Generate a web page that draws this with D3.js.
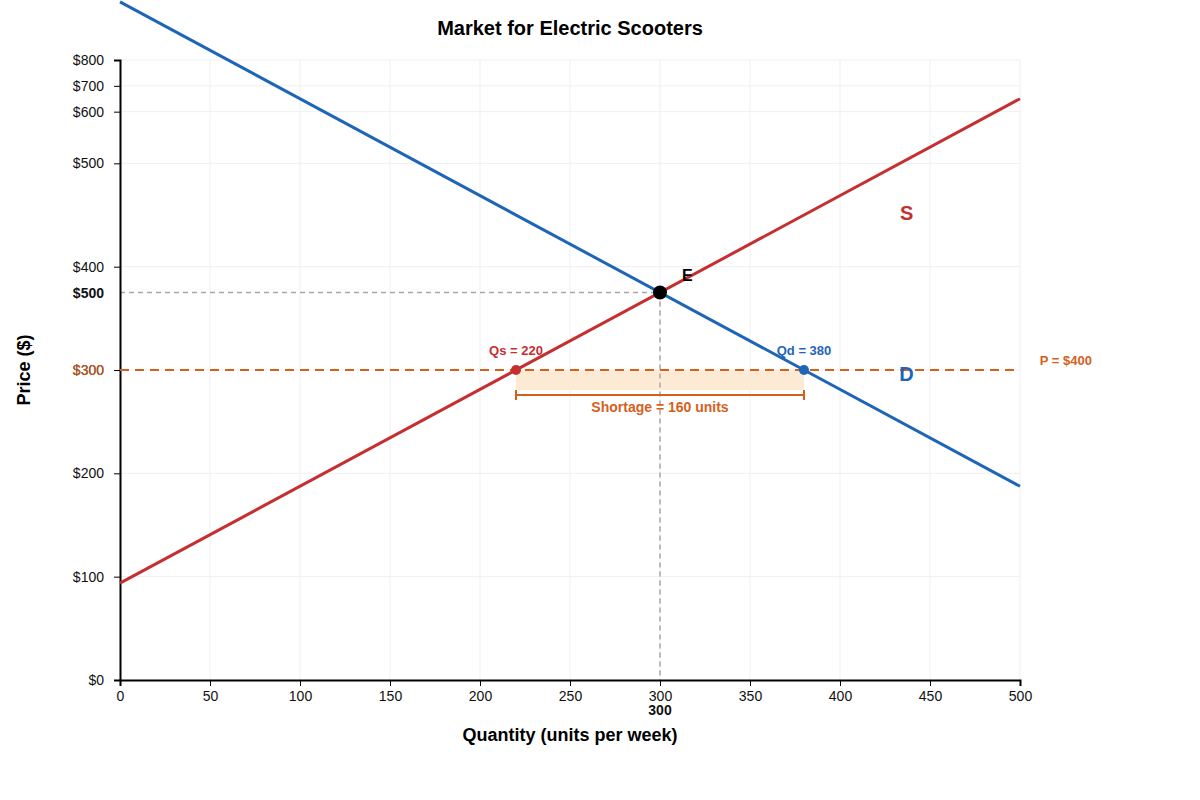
<!DOCTYPE html>
<html><head><meta charset="utf-8">
<script src="https://cdn.jsdelivr.net/npm/d3@7/dist/d3.min.js"></script>
<style>body{margin:0;background:#fff;font-family:"Liberation Sans",Arial,sans-serif}</style>
</head><body><svg id="c" width="1200" height="800"></svg>
<script>
// Data
const xTicks = [0,50,100,150,200,250,300,350,400,450,500];
const yTickValues = [0,100,200,300,400,500,550,575,600];
const yTickLabels = ["$0","$100","$200","$300","$400","$500","$600","$700","$800"];
const supplyLine = [[0,93.75],[500,562.5]];
const demandLine = [[0,656.25],[500,187.5]];
const equilibrium = {q:300, p:375, priceLabel:"$500", qLabel:"300"};
const ceiling = {p:300, label:"P = $400", axisLabel:"$300"};
const qs = 220, qd = 380;
const shortageLabel = "Shortage = 160 units";

const svg = d3.select("#c");
const x = d3.scaleLinear().domain([0,500]).range([120,1020]);
const y = d3.scaleLinear().domain([0,600]).range([680,60]);
const RED="#c62f2f", BLUE="#1f65b7", ORANGE="#d5601c";

// grid
svg.append("g").selectAll("line").data(xTicks.slice(1)).join("line")
  .attr("x1",d=>x(d)).attr("x2",d=>x(d)).attr("y1",y(600)).attr("y2",y(0))
  .attr("stroke","#efefef").attr("stroke-width",1);
svg.append("g").selectAll("line").data(yTickValues.slice(1)).join("line")
  .attr("x1",x(0)).attr("x2",x(500)).attr("y1",d=>y(d)).attr("y2",d=>y(d))
  .attr("stroke","#efefef").attr("stroke-width",1);

// shortage area
svg.append("rect").attr("x",x(qs)).attr("width",x(qd)-x(qs))
  .attr("y",y(ceiling.p)).attr("height",20).attr("fill","#fde8cf").attr("opacity",0.9);

// equilibrium guides
svg.append("line").attr("x1",x(0)).attr("x2",x(equilibrium.q)).attr("y1",y(equilibrium.p)).attr("y2",y(equilibrium.p))
  .attr("stroke","#a8a8a8").attr("stroke-width",1.5).attr("stroke-dasharray","5,4");
svg.append("line").attr("x1",x(equilibrium.q)).attr("x2",x(equilibrium.q)).attr("y1",y(equilibrium.p)).attr("y2",y(0))
  .attr("stroke","#a8a8a8").attr("stroke-width",1.5).attr("stroke-dasharray","5,4");

// axes
const xAxis = svg.append("g").attr("transform",`translate(0,${y(0)})`)
  .call(d3.axisBottom(x).tickValues(xTicks).tickSize(6).tickFormat(d3.format("d")));
const yAxis = svg.append("g").attr("transform",`translate(${x(0)},0)`)
  .call(d3.axisLeft(y).tickValues(yTickValues).tickSize(6).tickPadding(10).tickFormat((d,i)=>yTickLabels[i]));
[xAxis,yAxis].forEach(a=>{
  a.select(".domain").attr("stroke","#000").attr("stroke-width",2);
  a.selectAll(".tick line").attr("stroke","#000");
  a.selectAll("text").attr("font-family","Liberation Sans, Arial, sans-serif").attr("font-size",14).attr("fill","#111");
});
xAxis.selectAll("text").attr("dy","0.85em");

// ceiling line
svg.append("line").attr("x1",x(0)).attr("x2",x(497)).attr("y1",y(ceiling.p)).attr("y2",y(ceiling.p))
  .attr("stroke",ORANGE).attr("stroke-width",2).attr("stroke-dasharray","9,6");

// supply & demand
const line = d3.line().x(d=>x(d[0])).y(d=>y(d[1]));
svg.append("path").attr("d",line(supplyLine)).attr("fill","none").attr("stroke",RED).attr("stroke-width",3);
svg.append("path").attr("d",line(demandLine)).attr("fill","none").attr("stroke",BLUE).attr("stroke-width",3);

// bracket
const by = y(ceiling.p)+25;
svg.append("line").attr("x1",x(qs)).attr("x2",x(qd)).attr("y1",by).attr("y2",by).attr("stroke",ORANGE).attr("stroke-width",2);
[qs,qd].forEach(q=>svg.append("line").attr("x1",x(q)).attr("x2",x(q)).attr("y1",by-5).attr("y2",by+5).attr("stroke",ORANGE).attr("stroke-width",2));
svg.append("text").attr("x",x((qs+qd)/2)).attr("y",by+17).attr("text-anchor","middle")
  .attr("font-size",14).attr("font-weight","bold").attr("fill",ORANGE).text(shortageLabel);

// points
svg.append("circle").attr("cx",x(qs)).attr("cy",y(ceiling.p)).attr("r",5).attr("fill",RED);
svg.append("circle").attr("cx",x(qd)).attr("cy",y(ceiling.p)).attr("r",5).attr("fill",BLUE);
svg.append("circle").attr("cx",x(equilibrium.q)).attr("cy",y(equilibrium.p)).attr("r",7).attr("fill","#000");

// labels
svg.append("text").attr("x",x(qs)).attr("y",y(ceiling.p)-15).attr("text-anchor","middle")
  .attr("font-size",13).attr("font-weight","bold").attr("fill",RED).text("Qs = "+qs);
svg.append("text").attr("x",x(qd)).attr("y",y(ceiling.p)-15).attr("text-anchor","middle")
  .attr("font-size",13).attr("font-weight","bold").attr("fill",BLUE).text("Qd = "+qd);
svg.append("text").attr("x",x(equilibrium.q)+22).attr("y",y(equilibrium.p)-12)
  .attr("font-size",16).attr("font-weight","bold").attr("fill","#000").text("E");
svg.append("text").attr("x",x(437)).attr("y",y(445)).attr("text-anchor","middle")
  .attr("font-size",20).attr("font-weight","bold").attr("fill",RED).text("S");
svg.append("text").attr("x",x(437)).attr("y",y(ceiling.p)+11).attr("text-anchor","middle")
  .attr("font-size",20).attr("font-weight","bold").attr("fill",BLUE).text("D");
svg.append("text").attr("x",x(511)).attr("y",y(ceiling.p)-5)
  .attr("font-size",13).attr("font-weight","bold").attr("fill",ORANGE).text(ceiling.label);

// axis annotations
svg.append("text").attr("x",x(0)-16).attr("y",y(equilibrium.p)+5).attr("text-anchor","end")
  .attr("font-size",14).attr("font-weight","bold").attr("fill","#111").text(equilibrium.priceLabel);
svg.append("text").attr("x",x(0)-16).attr("y",y(ceiling.p)+5).attr("text-anchor","end")
  .attr("font-size",14).attr("fill",ORANGE).attr("opacity",0.9).text(ceiling.axisLabel);
svg.append("text").attr("x",x(equilibrium.q)).attr("y",y(0)+35).attr("text-anchor","middle")
  .attr("font-size",14).attr("font-weight","bold").attr("fill","#111").text(equilibrium.qLabel);

// titles
svg.append("text").attr("x",570).attr("y",35).attr("text-anchor","middle")
  .attr("font-size",20).attr("font-weight","bold").text("Market for Electric Scooters");
svg.append("text").attr("x",570).attr("y",741).attr("text-anchor","middle")
  .attr("font-size",18).attr("font-weight","bold").text("Quantity (units per week)");
svg.append("text").attr("transform","translate(30,370) rotate(-90)").attr("text-anchor","middle")
  .attr("font-size",18).attr("font-weight","bold").text("Price ($)");
</script></body></html>
